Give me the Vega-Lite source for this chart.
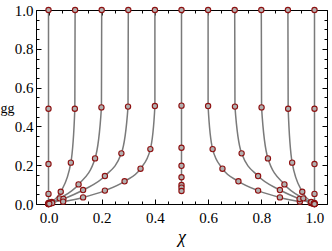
{
  "$schema": "https://vega.github.io/schema/vega-lite/v6.json",
  "width": 291,
  "height": 194,
  "autosize": "none",
  "padding": {"left": 36, "top": 10, "right": 5, "bottom": 47},
  "config": {"view": {"stroke": null}, "axis": {"domainColor": "black", "tickColor": "black", "grid": false, "labelFont": "Liberation Serif", "labelFontSize": 15, "labelColor": "black", "titleColor": "black"}},
  "data": {"values": [
    {"c": 0, "s": 0, "x": 0, "y": 1}, {"c": 0, "s": 1, "x": 0, "y": 0.491}, {"c": 0, "s": 2, "x": 0, "y": 0.206}, {"c": 0, "s": 3, "x": 0, "y": 0.052}, {"c": 0, "s": 4, "x": 0, "y": 0.006}, {"c": 0, "s": 5, "x": 0, "y": 0.001}, {"c": 0, "s": 6, "x": 0, "y": 0.0003}, {"c": 0, "s": 7, "x": 0, "y": 0},
    {"c": 1, "s": 0, "x": 0.1, "y": 1}, {"c": 1, "s": 1, "x": 0.099, "y": 0.491}, {"c": 1, "s": 2, "x": 0.084, "y": 0.213}, {"c": 1, "s": 3, "x": 0.046, "y": 0.063}, {"c": 1, "s": 4, "x": 0.012, "y": 0.01}, {"c": 1, "s": 5, "x": 0.003, "y": 0.002}, {"c": 1, "s": 6, "x": 0.001, "y": 0.0005}, {"c": 1, "s": 7, "x": 0, "y": 0},
    {"c": 2, "s": 0, "x": 0.2, "y": 1}, {"c": 2, "s": 1, "x": 0.199, "y": 0.498}, {"c": 2, "s": 2, "x": 0.175, "y": 0.235}, {"c": 2, "s": 3, "x": 0.113, "y": 0.101}, {"c": 2, "s": 4, "x": 0.042, "y": 0.029}, {"c": 2, "s": 5, "x": 0.01, "y": 0.005}, {"c": 2, "s": 6, "x": 0.002, "y": 0.001}, {"c": 2, "s": 7, "x": 0.0005, "y": 0.0002},
    {"c": 3, "s": 0, "x": 0.3, "y": 1}, {"c": 3, "s": 1, "x": 0.299, "y": 0.502}, {"c": 3, "s": 2, "x": 0.274, "y": 0.261}, {"c": 3, "s": 3, "x": 0.212, "y": 0.144}, {"c": 3, "s": 4, "x": 0.13, "y": 0.072}, {"c": 3, "s": 5, "x": 0.056, "y": 0.026}, {"c": 3, "s": 6, "x": 0.014, "y": 0.005}, {"c": 3, "s": 7, "x": 0.003, "y": 0.001},
    {"c": 4, "s": 0, "x": 0.4, "y": 1}, {"c": 4, "s": 1, "x": 0.4, "y": 0.505}, {"c": 4, "s": 2, "x": 0.383, "y": 0.283}, {"c": 4, "s": 3, "x": 0.346, "y": 0.182}, {"c": 4, "s": 4, "x": 0.286, "y": 0.117}, {"c": 4, "s": 5, "x": 0.212, "y": 0.069}, {"c": 4, "s": 6, "x": 0.13, "y": 0.034}, {"c": 4, "s": 7, "x": 0.055, "y": 0.012},
    {"c": 5, "s": 0, "x": 0.5, "y": 1}, {"c": 5, "s": 1, "x": 0.5, "y": 0.507}, {"c": 5, "s": 2, "x": 0.5, "y": 0.29}, {"c": 5, "s": 3, "x": 0.5, "y": 0.197}, {"c": 5, "s": 4, "x": 0.5, "y": 0.138}, {"c": 5, "s": 5, "x": 0.5, "y": 0.098}, {"c": 5, "s": 6, "x": 0.5, "y": 0.084}, {"c": 5, "s": 7, "x": 0.5, "y": 0.067},
    {"c": 6, "s": 0, "x": 0.6, "y": 1}, {"c": 6, "s": 1, "x": 0.6, "y": 0.505}, {"c": 6, "s": 2, "x": 0.617, "y": 0.283}, {"c": 6, "s": 3, "x": 0.654, "y": 0.182}, {"c": 6, "s": 4, "x": 0.714, "y": 0.117}, {"c": 6, "s": 5, "x": 0.788, "y": 0.069}, {"c": 6, "s": 6, "x": 0.87, "y": 0.034}, {"c": 6, "s": 7, "x": 0.945, "y": 0.012},
    {"c": 7, "s": 0, "x": 0.7, "y": 1}, {"c": 7, "s": 1, "x": 0.701, "y": 0.502}, {"c": 7, "s": 2, "x": 0.726, "y": 0.261}, {"c": 7, "s": 3, "x": 0.788, "y": 0.144}, {"c": 7, "s": 4, "x": 0.87, "y": 0.072}, {"c": 7, "s": 5, "x": 0.944, "y": 0.026}, {"c": 7, "s": 6, "x": 0.986, "y": 0.005}, {"c": 7, "s": 7, "x": 0.997, "y": 0.001},
    {"c": 8, "s": 0, "x": 0.8, "y": 1}, {"c": 8, "s": 1, "x": 0.801, "y": 0.498}, {"c": 8, "s": 2, "x": 0.825, "y": 0.235}, {"c": 8, "s": 3, "x": 0.887, "y": 0.101}, {"c": 8, "s": 4, "x": 0.958, "y": 0.029}, {"c": 8, "s": 5, "x": 0.99, "y": 0.005}, {"c": 8, "s": 6, "x": 0.998, "y": 0.001}, {"c": 8, "s": 7, "x": 0.9995, "y": 0.0002},
    {"c": 9, "s": 0, "x": 0.9, "y": 1}, {"c": 9, "s": 1, "x": 0.901, "y": 0.491}, {"c": 9, "s": 2, "x": 0.916, "y": 0.213}, {"c": 9, "s": 3, "x": 0.954, "y": 0.063}, {"c": 9, "s": 4, "x": 0.988, "y": 0.01}, {"c": 9, "s": 5, "x": 0.997, "y": 0.002}, {"c": 9, "s": 6, "x": 0.999, "y": 0.0005}, {"c": 9, "s": 7, "x": 1, "y": 0},
    {"c": 10, "s": 0, "x": 1, "y": 1}, {"c": 10, "s": 1, "x": 1, "y": 0.491}, {"c": 10, "s": 2, "x": 1, "y": 0.206}, {"c": 10, "s": 3, "x": 1, "y": 0.052}, {"c": 10, "s": 4, "x": 1, "y": 0.006}, {"c": 10, "s": 5, "x": 1, "y": 0.001}, {"c": 10, "s": 6, "x": 1, "y": 0.0003}, {"c": 10, "s": 7, "x": 1, "y": 0}
  ]},
  "resolve": {"axis": {"x": "independent", "y": "independent"}},
  "layer": [
    {
      "mark": {"type": "line", "interpolate": "monotone", "color": "#7a7a7a", "strokeWidth": 1.5},
      "encoding": {
        "x": {"field": "x", "type": "quantitative", "scale": {"domain": [-0.047, 1.047], "nice": false, "zero": false},
              "axis": {"orient": "bottom", "values": [0, 0.2, 0.4, 0.6, 0.8, 1], "format": ".1f", "tickSize": -5, "labelPadding": 11, "title": "χ", "titleFont": "Liberation Serif", "titleFontStyle": "italic", "titleFontWeight": "normal", "titleFontSize": 18, "titleY": 38, "titleBaseline": "alphabetic"}},
        "y": {"field": "y", "type": "quantitative", "scale": {"domain": [0, 1], "nice": false},
              "axis": {"orient": "left", "values": [0, 0.2, 0.4, 0.6, 0.8, 1], "format": ".1f", "tickSize": -5, "labelPadding": 8, "title": "gg", "titleFont": "Liberation Serif", "titleFontWeight": "normal", "titleFontSize": 14, "titleX": -29, "titleY": 98, "titleAngle": 0, "titleAlign": "center", "titleBaseline": "middle"}},
        "detail": {"field": "c", "type": "nominal"},
        "order": {"field": "s", "type": "quantitative"}
      }
    },
    {
      "mark": {"type": "point", "shape": "circle", "filled": false, "fill": "#b0b0b0", "fillOpacity": 1, "stroke": "#8e1010", "strokeWidth": 1.1, "size": 28, "opacity": 1},
      "encoding": {
        "x": {"field": "x", "type": "quantitative", "axis": {"orient": "top", "values": [0, 0.2, 0.4, 0.6, 0.8, 1], "labels": false, "title": null, "tickSize": -5}},
        "y": {"field": "y", "type": "quantitative", "axis": {"orient": "right", "values": [0, 0.2, 0.4, 0.6, 0.8, 1], "labels": false, "title": null, "tickSize": -5}}
      }
    },
    {
      "mark": {"type": "point", "opacity": 0},
      "encoding": {
        "x": {"field": "x", "type": "quantitative", "axis": {"orient": "bottom", "values": [0, 0.05, 0.1, 0.15, 0.2, 0.25, 0.3, 0.35, 0.4, 0.45, 0.5, 0.55, 0.6, 0.65, 0.7, 0.75, 0.8, 0.85, 0.9, 0.95, 1], "labels": false, "title": null, "domain": false, "tickSize": -3}},
        "y": {"field": "y", "type": "quantitative", "axis": {"orient": "left", "values": [0, 0.05, 0.1, 0.15, 0.2, 0.25, 0.3, 0.35, 0.4, 0.45, 0.5, 0.55, 0.6, 0.65, 0.7, 0.75, 0.8, 0.85, 0.9, 0.95, 1], "labels": false, "title": null, "domain": false, "tickSize": -3}}
      }
    },
    {
      "mark": {"type": "point", "opacity": 0},
      "encoding": {
        "x": {"field": "x", "type": "quantitative", "axis": {"orient": "top", "values": [0, 0.05, 0.1, 0.15, 0.2, 0.25, 0.3, 0.35, 0.4, 0.45, 0.5, 0.55, 0.6, 0.65, 0.7, 0.75, 0.8, 0.85, 0.9, 0.95, 1], "labels": false, "title": null, "domain": false, "tickSize": -3}},
        "y": {"field": "y", "type": "quantitative", "axis": {"orient": "right", "values": [0, 0.05, 0.1, 0.15, 0.2, 0.25, 0.3, 0.35, 0.4, 0.45, 0.5, 0.55, 0.6, 0.65, 0.7, 0.75, 0.8, 0.85, 0.9, 0.95, 1], "labels": false, "title": null, "domain": false, "tickSize": -3}}
      }
    }
  ]
}
